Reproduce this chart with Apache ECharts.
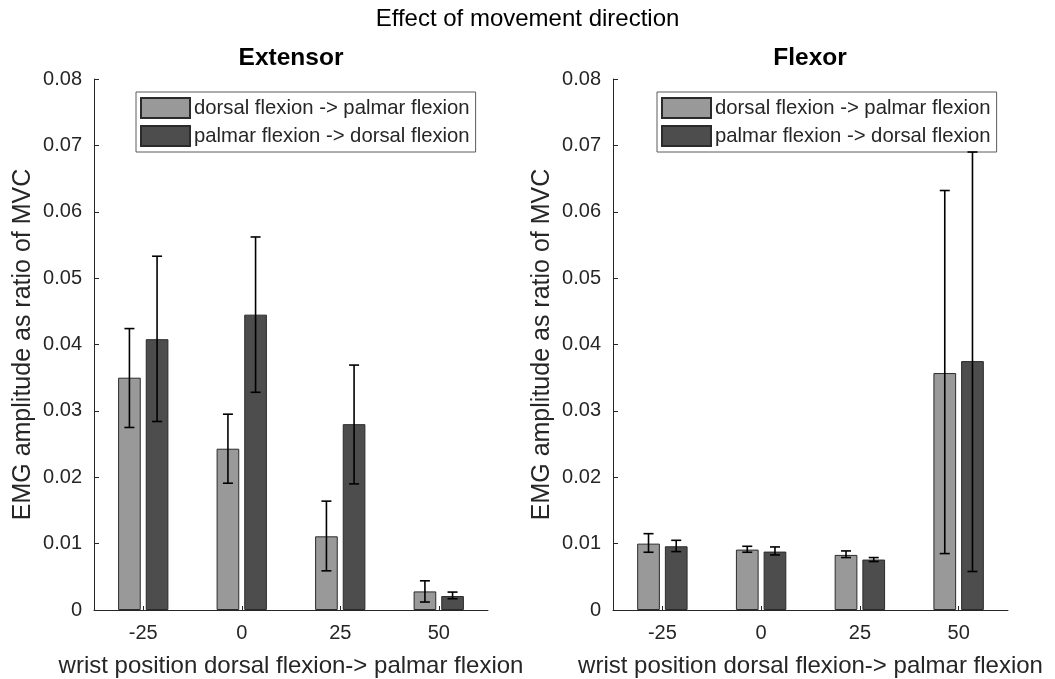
<!DOCTYPE html>
<html>
<head>
<meta charset="utf-8">
<script src="https://cdn.jsdelivr.net/npm/echarts@6/dist/echarts.min.js"></script>
<style>
html,body{margin:0;padding:0;background:#fff;}
#chart{width:1055px;height:679px;}
</style>
</head>
<body>
<div id="chart"></div>
<script>
// ---- data ----
const categories = ['-25', '0', '25', '50'];
const seriesNames = ['dorsal flexion -> palmar flexion', 'palmar flexion -> dorsal flexion'];

const extDorsal      = [0.0350, 0.0243, 0.0111, 0.0028];
const extPalmar      = [0.0408, 0.0445, 0.0280, 0.0021];
const extDorsalLow   = [0.0275, 0.0191, 0.0059, 0.0012];
const extDorsalHigh  = [0.0424, 0.0295, 0.0164, 0.0044];
const extPalmarLow   = [0.0284, 0.0328, 0.0190, 0.0017];
const extPalmarHigh  = [0.0533, 0.0562, 0.0369, 0.0027];

const flexDorsal     = [0.0100, 0.0091, 0.0083, 0.0357];
const flexPalmar     = [0.0096, 0.0088, 0.0076, 0.0375];
const flexDorsalLow  = [0.0087, 0.0087, 0.0079, 0.0085];
const flexDorsalHigh = [0.0115, 0.0096, 0.0089, 0.0632];
const flexPalmarLow  = [0.0088, 0.0083, 0.0073, 0.0058];
const flexPalmarHigh = [0.0105, 0.0095, 0.0079, 0.0690];

const yTicks = [0, 0.01, 0.02, 0.03, 0.04, 0.05, 0.06, 0.07, 0.08];

// ---- styling ----
const FONT = '"Liberation Sans", Arial, Helvetica, sans-serif';
const AX = '#262626';
const colors = ['#999999', '#4d4d4d'];
const BAR_W = 0.23;   // fraction of band
const BAR_GAP = 0.22; // fraction of bar width
const centerOffset = -(2 * BAR_W + BAR_W * BAR_GAP) / 2 + BAR_W / 2;

function errData(low, high) {
  return categories.map((c, i) => [i, low[i], high[i]]);
}
function errSeries(idx, low, high, side) {
  return {
    type: 'custom',
    xAxisIndex: idx, yAxisIndex: idx,
    z: 10,
    silent: true,
    data: errData(low, high),
    encode: { x: 0, y: [1, 2] },
    renderItem: function (params, api) {
      const ci = api.value(0);
      const lo = api.coord([ci, api.value(1)]);
      const hi = api.coord([ci, api.value(2)]);
      const bw = api.size([1, 0])[0];
      const x = lo[0] + side * centerOffset * bw;
      const cap = 5;
      const st = { stroke: '#000', lineWidth: 1.6, fill: null };
      return {
        type: 'group',
        children: [
          { type: 'line', shape: { x1: x, y1: lo[1], x2: x, y2: hi[1] }, style: st },
          { type: 'line', shape: { x1: x - cap, y1: lo[1], x2: x + cap, y2: lo[1] }, style: st },
          { type: 'line', shape: { x1: x - cap, y1: hi[1], x2: x + cap, y2: hi[1] }, style: st }
        ]
      };
    }
  };
}
function barSeries(idx, name, data, color) {
  return {
    type: 'bar', name: name,
    xAxisIndex: idx, yAxisIndex: idx,
    data: data,
    barWidth: (BAR_W * 100) + '%',
    barGap: (BAR_GAP * 100) + '%',
    itemStyle: { color: color, borderColor: '#2b2b2b', borderWidth: 1 },
    emphasis: { disabled: true }
  };
}
function xAxis(idx) {
  return {
    type: 'category', gridIndex: idx, data: categories,
    boundaryGap: true,
    axisLine: { lineStyle: { color: AX, width: 1 } },
    axisTick: { show: true, inside: true, alignWithLabel: true, length: 4, lineStyle: { color: AX } },
    axisLabel: { color: AX, fontSize: 20, fontFamily: FONT, margin: 13 },
    name: 'wrist position dorsal flexion-> palmar flexion',
    nameLocation: 'middle', nameGap: 44,
    nameTextStyle: { color: AX, fontSize: 24, fontFamily: FONT }
  };
}
function yAxis(idx) {
  return {
    type: 'value', gridIndex: idx,
    min: yTicks[0], max: yTicks[yTicks.length - 1], interval: 0.01,
    splitLine: { show: false },
    axisLine: { show: true, lineStyle: { color: AX, width: 1 } },
    axisTick: { show: true, inside: true, length: 5, lineStyle: { color: AX } },
    axisLabel: { color: AX, fontSize: 20, fontFamily: FONT, margin: 12,
      formatter: v => (Math.abs(v) < 1e-9 ? '0' : v.toFixed(2)) },
    name: 'EMG amplitude as ratio of MVC',
    nameLocation: 'middle', nameGap: 58,
    nameTextStyle: { color: AX, fontSize: 25, fontFamily: FONT }
  };
}
function legend(left) {
  return {
    data: seriesNames,
    orient: 'vertical',
    left: left, top: 92,
    icon: 'rect',
    itemWidth: 49, itemHeight: 20, itemGap: 6,
    padding: [5, 6, 5, 4],
    borderColor: '#5a5a5a', borderWidth: 1,
    backgroundColor: '#fff',
    selectedMode: false,
    textStyle: { color: AX, fontSize: 20.3, fontFamily: FONT, padding: [0, 0, 0, -1], lineHeight: 21 }
  };
}

const chart = echarts.init(document.getElementById('chart'), null, { renderer: 'canvas' });
chart.setOption({
  backgroundColor: '#fff',
  animation: false,
  title: {
    text: 'Effect of movement direction',
    left: 'center', top: 7, padding: 0,
    textStyle: { color: '#000', fontSize: 24, fontWeight: 'normal', fontFamily: FONT }
  },
  graphic: [
    { type: 'text', x: 291, y: 46, style: { text: 'Extensor', textAlign: 'center', fill: '#000', font: 'bold 24.5px ' + FONT } },
    { type: 'text', x: 810, y: 46, style: { text: 'Flexor', textAlign: 'center', fill: '#000', font: 'bold 24.5px ' + FONT } }
  ],
  legend: [legend(136), legend(657)],
  grid: [
    { left: 94, top: 79, width: 394, height: 531, containLabel: false, outerBoundsMode: 'none' },
    { left: 613, top: 79, width: 395, height: 531, containLabel: false, outerBoundsMode: 'none' }
  ],
  xAxis: [xAxis(0), xAxis(1)],
  yAxis: [yAxis(0), yAxis(1)],
  series: [
    barSeries(0, seriesNames[0], extDorsal, colors[0]),
    barSeries(0, seriesNames[1], extPalmar, colors[1]),
    barSeries(1, seriesNames[0], flexDorsal, colors[0]),
    barSeries(1, seriesNames[1], flexPalmar, colors[1]),
    errSeries(0, extDorsalLow, extDorsalHigh, 1),
    errSeries(0, extPalmarLow, extPalmarHigh, -1),
    errSeries(1, flexDorsalLow, flexDorsalHigh, 1),
    errSeries(1, flexPalmarLow, flexPalmarHigh, -1)
  ]
});
</script>
</body>
</html>
